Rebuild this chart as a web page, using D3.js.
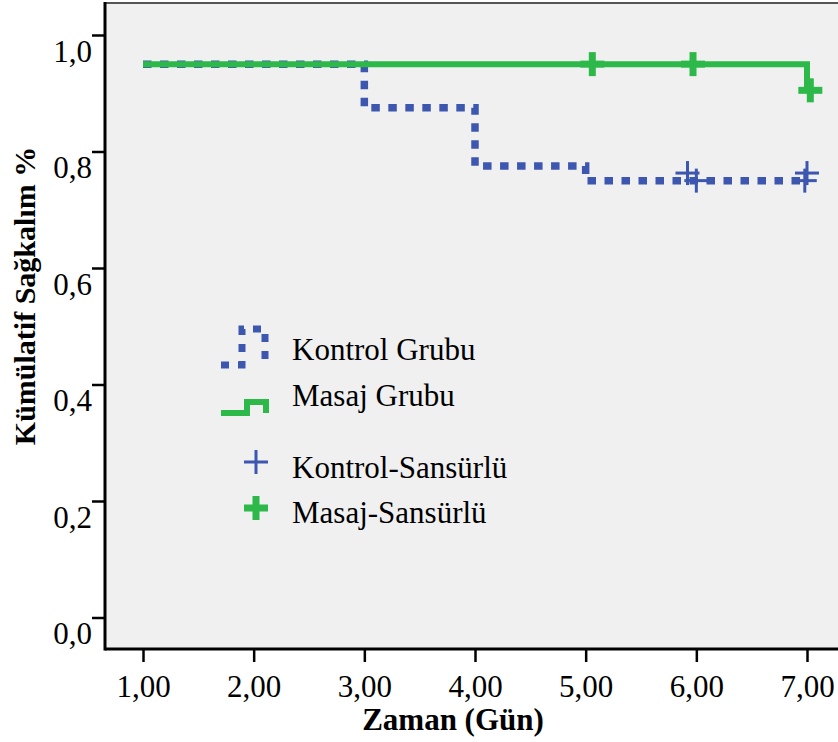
<!DOCTYPE html>
<html>
<head>
<meta charset="utf-8">
<script src="https://cdn.jsdelivr.net/npm/d3@7"></script>
<style>
  body { margin: 0; background: #fff; }
  svg { display: block; }
  text { font-family: "Liberation Serif", "Times New Roman", serif; fill: #000; }
</style>
</head>
<body>
<svg></svg>
<script>
// survival curves (Kaplan-Meier, step after)
const kontrolTimes = [1, 3, 4, 5, 7]
const kontrolSurv = [0.95, 0.875, 0.775, 0.75, 0.75]
const masajTimes = [1, 7, 7]
const masajSurv = [0.95, 0.95, 0.905]

// censored marks
const kontrolCensT = [5.92, 6.0, 7.0, 6.98]
const kontrolCensS = [0.763, 0.75, 0.763, 0.75]
const masajCensT = [5.06, 5.97, 7.03]
const masajCensS = [0.95, 0.95, 0.905]

const xTicks = [1, 2, 3, 4, 5, 6, 7]
const yTicks = [0, 0.2, 0.4, 0.6, 0.8, 1.0]

const legendLabels = ['Kontrol Grubu', 'Masaj Grubu', 'Kontrol-Sansürlü', 'Masaj-Sansürlü']

const width = 838
const height = 742
const blue = '#3d57b0'
const green = '#2db84a'

const svg = d3.select('svg')
    .attr('width', width)
    .attr('height', height)

const frame = { left: 105, top: 3, right: 850, bottom: 649 }

const x = d3.scaleLinear().domain([1, 7]).range([143, 807])
const y = d3.scaleLinear().domain([0, 1]).range([617.5, 35])

// plot background
svg.append('rect')
    .attr('x', frame.left)
    .attr('y', frame.top)
    .attr('width', frame.right - frame.left)
    .attr('height', frame.bottom - frame.top)
    .attr('fill', '#f0f0f0')

svg.append('line')
    .attr('x1', frame.left).attr('x2', frame.right)
    .attr('y1', frame.top).attr('y2', frame.top)
    .attr('stroke', '#555').attr('stroke-width', 2)
svg.append('line')
    .attr('x1', frame.left).attr('x2', frame.left)
    .attr('y1', frame.top - 1).attr('y2', frame.bottom + 1.5)
    .attr('stroke', '#000').attr('stroke-width', 3)
svg.append('line')
    .attr('x1', frame.left).attr('x2', frame.right)
    .attr('y1', frame.bottom).attr('y2', frame.bottom)
    .attr('stroke', '#000').attr('stroke-width', 3)

// axes
const fmtY = d => d3.format('.1f')(d).replace('.', ',')
const fmtX = d => d3.format('.2f')(d).replace('.', ',')

const yAxis = svg.append('g')
    .attr('transform', `translate(${frame.left},0)`)
    .call(d3.axisLeft(y).tickValues(yTicks).tickSize(13).tickFormat(fmtY))
yAxis.select('.domain').remove()
yAxis.selectAll('line').attr('stroke', '#000').attr('stroke-width', 2.5)
yAxis.selectAll('text')
    .attr('x', -13)
    .attr('dy', null)
    .attr('y', 26)
    .style('font-size', '31px')
    .style('font-family', '"Liberation Serif", serif')

const xAxis = svg.append('g')
    .attr('transform', `translate(0,${frame.bottom})`)
    .call(d3.axisBottom(x).tickValues(xTicks).tickSize(13).tickFormat(fmtX))
xAxis.select('.domain').remove()
xAxis.selectAll('line').attr('stroke', '#000').attr('stroke-width', 2.5)
xAxis.selectAll('text')
    .attr('dy', null)
    .attr('y', 48)
    .style('font-size', '31px')
    .style('font-family', '"Liberation Serif", serif')

// axis titles
svg.append('text')
    .attr('x', 453)
    .attr('y', 730)
    .attr('text-anchor', 'middle')
    .style('font-size', '31px')
    .style('font-weight', 'bold')
    .text('Zaman (Gün)')

svg.append('text')
    .attr('transform', 'translate(35,296) rotate(-90)')
    .attr('text-anchor', 'middle')
    .style('font-size', '30px')
    .style('font-weight', 'bold')
    .text('Kümülatif Sağkalım %')

// curves
const step = d3.line()
    .x(d => x(d[0]))
    .y(d => y(d[1]))
    .curve(d3.curveStepAfter)

svg.append('path')
    .datum(d3.zip(kontrolTimes, kontrolSurv))
    .attr('d', step)
    .attr('fill', 'none')
    .attr('stroke', blue)
    .attr('stroke-width', 7.5)
    .attr('stroke-dasharray', '8.5 8.5')

svg.append('path')
    .datum(d3.zip(masajTimes, masajSurv))
    .attr('d', step)
    .attr('fill', 'none')
    .attr('stroke', green)
    .attr('stroke-width', 6)

function plus(g, cx, cy, size, thick, color) {
    g.append('line')
        .attr('x1', cx - size / 2).attr('x2', cx + size / 2)
        .attr('y1', cy).attr('y2', cy)
        .attr('stroke', color).attr('stroke-width', thick)
    g.append('line')
        .attr('x1', cx).attr('x2', cx)
        .attr('y1', cy - size / 2).attr('y2', cy + size / 2)
        .attr('stroke', color).attr('stroke-width', thick)
}

const marks = svg.append('g')
d3.zip(kontrolCensT, kontrolCensS).forEach(d => plus(marks, x(d[0]), y(d[1]), 24, 3, blue))
d3.zip(masajCensT, masajCensS).forEach(d => plus(marks, x(d[0]), y(d[1]), 24, 7, green))

// legend
const legend = svg.append('g')
legend.append('path')
    .attr('d', 'M221,365H242V329H265V364')
    .attr('fill', 'none')
    .attr('stroke', blue)
    .attr('stroke-width', 7)
    .attr('stroke-dasharray', '8 9')
legend.append('path')
    .attr('d', 'M221,413H247V402H266V413')
    .attr('fill', 'none')
    .attr('stroke', green)
    .attr('stroke-width', 6)
plus(legend, 256, 462, 24, 3, blue)
plus(legend, 256, 508, 24, 7, green)

const legendY = [360, 406, 478, 523]
legend.selectAll('text.lbl')
    .data(legendLabels)
    .enter()
    .append('text')
    .attr('class', 'lbl')
    .attr('x', 292)
    .attr('y', (d, i) => legendY[i])
    .style('font-size', '31px')
    .text(d => d)
</script>
</body>
</html>
